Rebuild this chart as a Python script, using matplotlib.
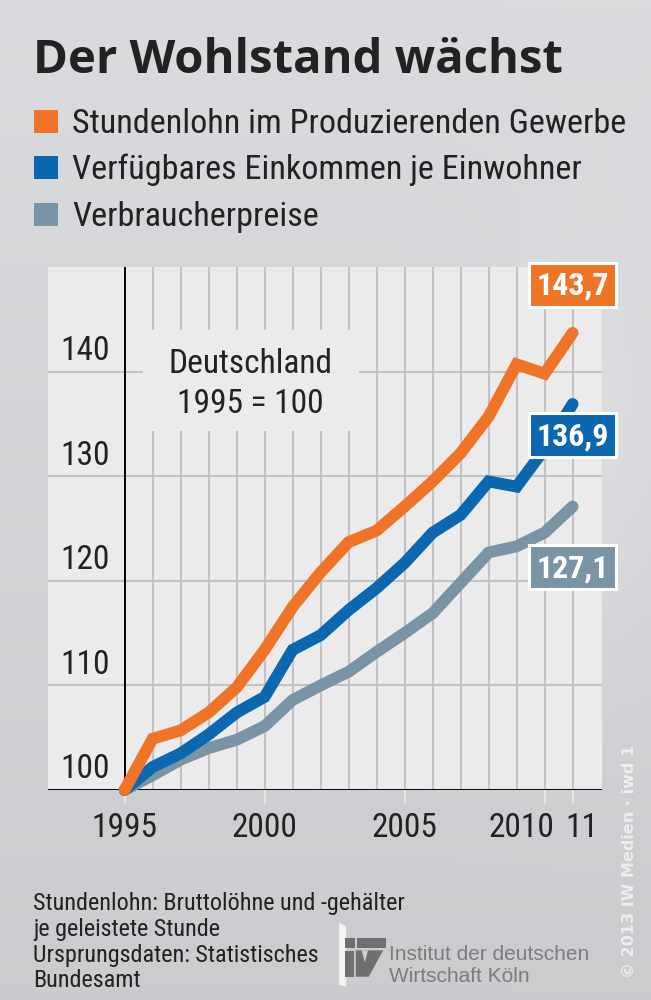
import numpy as np
import matplotlib
matplotlib.use('Agg')
import matplotlib.pyplot as plt
from matplotlib import font_manager
from matplotlib.patches import Rectangle, Polygon
from matplotlib.transforms import offset_copy


years = list(range(1995, 2012))

# Stundenlohn im Produzierenden Gewerbe
lohn = [100, 104.9, 105.7, 107.4, 109.8, 113.4, 117.5, 120.8, 123.7, 124.8,
        127.1, 129.5, 132.2, 135.7, 140.7, 139.8, 143.7]
# Verfuegbares Einkommen je Einwohner
einkommen = [100, 102.2, 103.5, 105.3, 107.4, 108.9, 113.4, 114.8, 117.2, 119.3,
             121.7, 124.6, 126.3, 129.5, 129.0, 132.6, 136.9]
# Verbraucherpreise
preise = [100, 101.4, 102.9, 104.0, 104.8, 106.1, 108.6, 110.0, 111.3, 113.2,
          115.0, 116.9, 119.8, 122.7, 123.3, 124.6, 127.1]

series_names = ['Stundenlohn im Produzierenden Gewerbe',
                'Verfügbares Einkommen je Einwohner',
                'Verbraucherpreise']
series_colors = ['#f07428', '#0a67b0', '#7894a5']
end_labels = ['143,7', '136,9', '127,1']

xtick_pos = [1995, 2000, 2005, 2010, 2011]
xtick_lab = ['1995', '2000', '2005', '2010', '11']
ytick_pos = [100, 110, 120, 130, 140]


# pick a narrow font if there is one
names = {f.name for f in font_manager.fontManager.ttflist}
NARROW = 'DejaVu Sans'
for cand in ['Liberation Sans Narrow', 'Roboto Condensed', 'Open Sans Condensed', 'DejaVu Sans']:
    if cand in names:
        NARROW = cand
        break
TITLE_FONT = 'Open Sans' if 'Open Sans' in names else 'Liberation Sans'


fig = plt.figure(figsize=(6.51, 10), dpi=100)

# background (neutral grey, a bit lighter on the right middle)
bg = fig.add_axes([0, 0, 1, 1])
yy, xx = np.mgrid[0:1:200j, 0:1:130j]
grad = 0.865 - 0.06 * yy + 0.03 * np.exp(-((xx - 0.92) ** 2 / 0.02 + (yy - 0.45) ** 2 / 0.05))
rgb = np.clip(np.dstack([grad * 0.985, grad * 0.993, grad * 1.005]), 0, 1)
bg.imshow(rgb, extent=[0, 1, 0, 1], aspect='auto', origin='upper')
bg.set_xlim(0, 1)
bg.set_ylim(0, 1)
bg.axis('off')

# title + legend
fig.text(33 / 651, 0.927, 'Der Wohlstand wächst', fontsize=34, fontweight='bold',
         family=TITLE_FONT, color='#222222')
for i, (name, col) in enumerate(zip(series_names, series_colors)):
    base = [0.867, 0.821, 0.774][i]
    fig.patches.append(Rectangle((34 / 651, base), 24 / 651, 0.023, transform=fig.transFigure,
                                 facecolor=col, edgecolor='none'))
    fig.text(72 / 651, base, name, fontsize=24.6, family=NARROW, color='#222222')

# main chart
ax = fig.add_axes([48 / 651, 0.21, 554 / 651, 0.523])
x0 = 1995 - 76.6 / 28
ax.set_xlim(x0, x0 + 554 / 28)
ax.set_ylim(100, 150)
ax.set_facecolor('#ebebeb')
for s in ax.spines.values():
    s.set_visible(False)

for yr in years[1:]:
    ax.axvline(yr, color='#c3c3c3', lw=1.5, zorder=1)
for v in ytick_pos[1:]:
    ax.axhline(v, color='#c3c3c3', lw=1.5, zorder=1)

# box behind "Deutschland" hides the grid
ax.add_patch(Rectangle((1995.66, 134.3), 7.7, 9.7, facecolor='#ebebeb', edgecolor='none', zorder=1.5))
ax.text(1999.5, 139.9, 'Deutschland', ha='center', va='baseline', fontsize=24, family=NARROW, color='#222222', zorder=2)
ax.text(1999.5, 136.05, '1995 = 100', ha='center', va='baseline', fontsize=24, family=NARROW, color='#222222', zorder=2)

ax.axhline(100, color='black', lw=1.4, zorder=2)
ax.axvline(1995, color='black', lw=1.4, zorder=2)

for v in ytick_pos:
    ax.text(1994.48, v + 1.1, str(v), ha='right', va='baseline', fontsize=24, family=NARROW, color='#222222')

data = [lohn, einkommen, preise]
for k in [2, 1, 0]:
    ax.plot(years, data[k], color=series_colors[k], lw=8.5, solid_capstyle='round',
            solid_joinstyle='miter', zorder=3 + (2 - k), clip_on=False)

# value boxes at the line ends
box_y = [148.3, 133.9, 121.3]
for lab, col, by in zip(end_labels, series_colors, box_y):
    ax.add_patch(Rectangle((2011 - 1.55, by - 2.1), 3.1, 4.2, facecolor=col, edgecolor='white',
                           lw=2.2, zorder=8, clip_on=False))
    ax.text(2011, by - 0.1, lab, ha='center', va='center', fontsize=23, fontweight='bold',
            family=NARROW, color='white', zorder=9, clip_on=False)

ax.set_yticks([])
ax.set_xticks(xtick_pos)
ax.set_xticklabels(xtick_lab, fontsize=24, family=NARROW, color='#222222')
ax.tick_params(axis='x', length=10, width=1.4, color='#e6e6e6', pad=6)
ax.xaxis.get_major_ticks()[0].tick1line.set_color('black')
# 2010 and 11 sit close together, nudge them apart like in the print
lbls = ax.get_xticklabels()
lbls[3].set_transform(offset_copy(lbls[3].get_transform(), fig=fig, x=-23, y=0, units='dots'))
lbls[4].set_transform(offset_copy(lbls[4].get_transform(), fig=fig, x=9, y=0, units='dots'))

# footer
foot = ['Stundenlohn: Bruttolöhne und -gehälter', 'je geleistete Stunde',
        'Ursprungsdaten: Statistisches', 'Bundesamt']
for i, line in enumerate(foot):
    fig.text(33 / 651, [0.090, 0.064, 0.038, 0.013][i], line, fontsize=17.4, family=NARROW, color='#222222')


# IW logo (rough), coords taken from a 3x crop at (330, 915)
def px(pts):
    return [((330 + x / 3.1) / 651, 1 - (915 + y / 3) / 1000) for x, y in pts]


logo = [
    ([(28, 22), (50, 35), (50, 215), (28, 210)], '#f3f3f3'),
    ([(48, 70), (78, 70), (78, 100), (48, 100)], '#6f6f6f'),
    ([(48, 108), (75, 108), (75, 185), (48, 185)], '#6f6f6f'),
    ([(85, 70), (175, 70), (175, 100), (85, 100)], '#6f6f6f'),
    ([(80, 106), (165, 106), (120, 185), (80, 185)], '#6f6f6f'),
    ([(98, 106), (118, 106), (108, 142)], '#cdd0d3'),
]
for pts, col in logo:
    fig.patches.append(Polygon(px(pts), closed=True, transform=fig.transFigure,
                               facecolor=col, edgecolor='none'))
fig.text(389 / 651, 0.040, 'Institut der deutschen', fontsize=15, family='Liberation Sans', color='#7c7c7c')
fig.text(389 / 651, 0.018, 'Wirtschaft Köln', fontsize=15, family='Liberation Sans', color='#7c7c7c')

fig.text(629 / 651, 0.022, '© 2013 IW Medien · iwd 1', rotation=90, ha='center', va='bottom',
         fontsize=11.5, fontweight='bold', color='#f4f4f4', alpha=0.85)

fig.savefig('out.png', dpi=100)
